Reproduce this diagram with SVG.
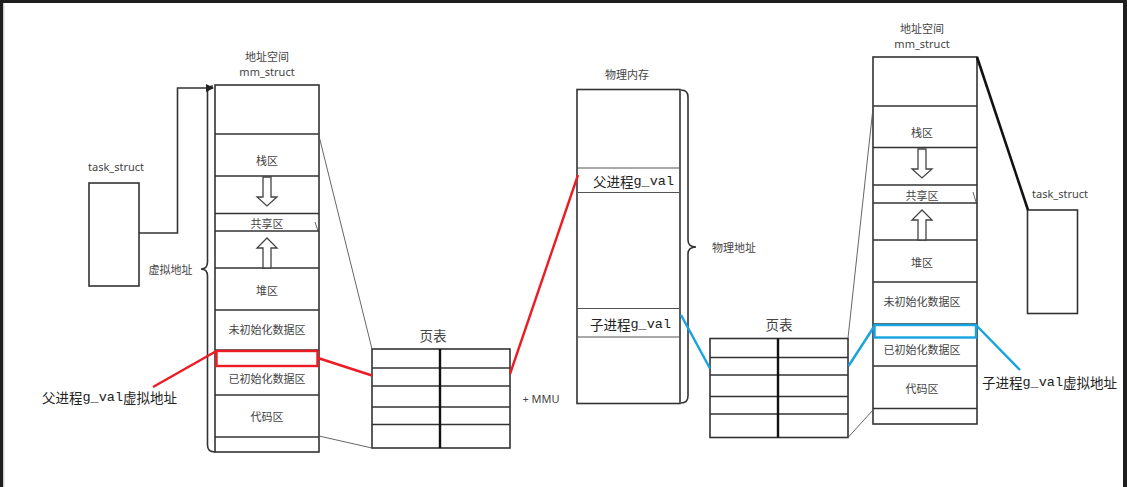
<svg xmlns="http://www.w3.org/2000/svg" width="1127" height="487" viewBox="0 0 1127 487">
<style>
.box{fill:#fff;stroke:#333;stroke-width:1.6}
.row{stroke:#333;stroke-width:1.6}
.thin{stroke:#555;stroke-width:0.9;fill:none}
.lbl{font-family:"Noto Sans","Noto Sans CJK SC",sans-serif;font-size:11px;fill:#444;text-anchor:middle;dominant-baseline:central}
.big{font-family:"Noto Sans CJK SC",sans-serif;font-size:13.5px;fill:#222;dominant-baseline:central}
.mono{font-family:"Liberation Mono",monospace}
.red{stroke:#ec1c24;stroke-width:2.4;fill:none}
.blue{stroke:#17a2e0;stroke-width:2.4;fill:none}
.arr{fill:#fff;stroke:#444;stroke-width:1.3}
.brace{fill:none;stroke:#333;stroke-width:1.6}
</style>
<defs>
<path id="down" d="M-4,0 H4 V20 H10 L0,29 L-10,20 H-4 Z"/>
<path id="up" d="M-4,30 V10 H-10 L0,0 L10,10 H4 V30 Z"/>
<marker id="ah" markerWidth="8" markerHeight="8" refX="7" refY="4" orient="auto" markerUnits="userSpaceOnUse">
<path d="M0,0 L8,4 L0,8 Z" fill="#222"/>
</marker>
</defs>
<rect width="1127" height="487" fill="#fff"/>
<rect x="0" y="0" width="1127" height="3" fill="#1e1e1e"/>
<rect x="0" y="0" width="3" height="487" fill="#1e1e1e"/>
<rect x="1123" y="0" width="4" height="487" fill="#1e1e1e"/>
<line x1="3.8" y1="3" x2="3.8" y2="487" stroke="#bbb" stroke-width="1"/>

<g id="task-left">
<text class="lbl" x="116" y="166">task_struct</text>
<rect class="box" x="89" y="183" width="50" height="103"/>
</g>

<g id="mm-left">
<text class="lbl" x="267" y="56">地址空间</text>
<text class="lbl" x="267" y="71">mm_struct</text>
<rect class="box" x="215" y="85" width="104" height="367"/>
<line class="row" x1="215" y1="134" x2="319" y2="134"/>
<line class="row" x1="215" y1="176" x2="319" y2="176"/>
<line class="row" x1="215" y1="213.5" x2="319" y2="213.5"/>
<line class="row" x1="215" y1="231" x2="319" y2="231"/>
<line class="row" x1="215" y1="268" x2="319" y2="268"/>
<line class="row" x1="215" y1="310" x2="319" y2="310"/>
<line class="row" x1="215" y1="350" x2="319" y2="350"/>
<line class="row" x1="215" y1="395" x2="319" y2="395"/>
<line class="row" x1="215" y1="437" x2="319" y2="437"/>
<text class="lbl" x="267" y="160">栈区</text>
<use href="#down" class="arr" transform="translate(267,177)"/>
<text class="lbl" x="267" y="223">共享区</text>
<use href="#up" class="arr" transform="translate(267,238)"/>
<text class="lbl" x="267" y="290">堆区</text>
<text class="lbl" x="267" y="329">未初始化数据区</text>
<text class="lbl" x="267" y="378">已初始化数据区</text>
<text class="lbl" x="267" y="416">代码区</text>
<line class="thin" x1="315" y1="222" x2="318" y2="231"/>
<path class="brace" d="M213,86 Q207.5,86 207.5,92 L207.5,262 Q207.5,269 201,269 Q207.5,269 207.5,276 L207.5,445 Q207.5,452 215,452"/>
<text class="lbl" x="170.5" y="269">虚拟地址</text>
<rect x="216.5" y="351" width="101" height="15" class="red"/>
</g>

<g id="pt-left">
<text class="lbl" x="433" y="336" style="font-size:13.5px">页表</text>
<rect class="box" x="372" y="349" width="138" height="99"/>
<line class="row" x1="372" y1="368" x2="510" y2="368"/>
<line class="row" x1="372" y1="386" x2="510" y2="386"/>
<line class="row" x1="372" y1="407" x2="510" y2="407"/>
<line class="row" x1="372" y1="424.5" x2="510" y2="424.5"/>
<line x1="440" y1="349" x2="440" y2="448" stroke="#111" stroke-width="2.4"/>
<text class="lbl" x="541" y="398" style="text-anchor:middle">+ MMU</text>
</g>

<g id="phys">
<text class="lbl" x="627" y="74">物理内存</text>
<rect class="box" x="577" y="89.5" width="103" height="314"/>
<line class="thin" x1="577" y1="168" x2="680" y2="168" style="stroke-width:1.2"/>
<line class="thin" x1="577" y1="192.5" x2="680" y2="192.5" style="stroke-width:1.2"/>
<line class="thin" x1="577" y1="308.5" x2="680" y2="308.5" style="stroke-width:1.2"/>
<line class="thin" x1="577" y1="337" x2="680" y2="337" style="stroke-width:1.2"/>
<text class="big" x="593" y="181">父进程<tspan class="mono">g_val</tspan></text>
<text class="big" x="590" y="323.5">子进程<tspan class="mono">g_val</tspan></text>
<path class="brace" d="M681,90 Q688,90 688,97 L688,240 Q688,247 696,247 Q688,247 688,254 L688,396 Q688,403 681,403"/>
<text class="lbl" x="734" y="247">物理地址</text>
</g>

<g id="pt-right">
<text class="lbl" x="779" y="324.5" style="font-size:13.5px">页表</text>
<rect class="box" x="710" y="338.5" width="138" height="99"/>
<line class="row" x1="710" y1="357.5" x2="848" y2="357.5"/>
<line class="row" x1="710" y1="375" x2="848" y2="375"/>
<line class="row" x1="710" y1="396.5" x2="848" y2="396.5"/>
<line class="row" x1="710" y1="414" x2="848" y2="414"/>
<line x1="778" y1="338.5" x2="778" y2="437.5" stroke="#111" stroke-width="2.4"/>
</g>

<g id="mm-right">
<text class="lbl" x="922" y="28">地址空间</text>
<text class="lbl" x="922" y="43">mm_struct</text>
<rect class="box" x="873" y="57" width="104" height="367"/>
<line class="row" x1="873" y1="106" x2="977" y2="106"/>
<line class="row" x1="873" y1="147.5" x2="977" y2="147.5"/>
<line class="row" x1="873" y1="185" x2="977" y2="185"/>
<line class="row" x1="873" y1="203" x2="977" y2="203"/>
<line class="row" x1="873" y1="240" x2="977" y2="240"/>
<line class="row" x1="873" y1="282" x2="977" y2="282"/>
<line class="row" x1="873" y1="324" x2="977" y2="324"/>
<line class="row" x1="873" y1="366" x2="977" y2="366"/>
<line class="row" x1="873" y1="408.5" x2="977" y2="408.5"/>
<text class="lbl" x="922" y="132">栈区</text>
<use href="#down" class="arr" transform="translate(922,149)"/>
<text class="lbl" x="922" y="195">共享区</text>
<use href="#up" class="arr" transform="translate(922,210)"/>
<text class="lbl" x="922" y="262">堆区</text>
<text class="lbl" x="922" y="301">未初始化数据区</text>
<text class="lbl" x="922" y="349.5">已初始化数据区</text>
<text class="lbl" x="922" y="388.5">代码区</text>
<line class="thin" x1="973" y1="192" x2="976" y2="202"/>
<rect x="874.5" y="325" width="101.5" height="12.5" class="blue"/>
</g>

<g id="task-right">
<text class="lbl" x="1060" y="193">task_struct</text>
<rect class="box" x="1027.5" y="210" width="50" height="103.5"/>
</g>

<g id="connectors">
<polyline points="139,233 177.5,233 177.5,88 213,88" fill="none" stroke="#333" stroke-width="1.6" marker-end="url(#ah)"/>
<line class="thin" x1="319" y1="136" x2="372" y2="349"/>
<line class="thin" x1="319" y1="436" x2="372" y2="448"/>
<line class="thin" x1="873" y1="108" x2="848" y2="338"/>
<line class="thin" x1="873" y1="410" x2="848" y2="437.5"/>
<line x1="977" y1="57" x2="1028" y2="210" stroke="#111" stroke-width="2.6"/>
<path class="red" d="M216.5,351 L153,387"/>
<path class="red" d="M318,358 L372,375.5"/>
<path class="red" d="M510,374 L578,175"/>
<path class="blue" d="M681,315 L710,368.5"/>
<path class="blue" d="M848.5,366 L874.5,326"/>
<path class="blue" d="M976,325 L1020,370"/>
</g>

<g id="labels">
<text class="big" x="42" y="397" style="font-size:13.5px">父进程<tspan class="mono">g_val</tspan>虚拟地址</text>
<text class="big" x="982" y="382" style="font-size:13.5px">子进程<tspan class="mono">g_val</tspan>虚拟地址</text>
</g>
</svg>
